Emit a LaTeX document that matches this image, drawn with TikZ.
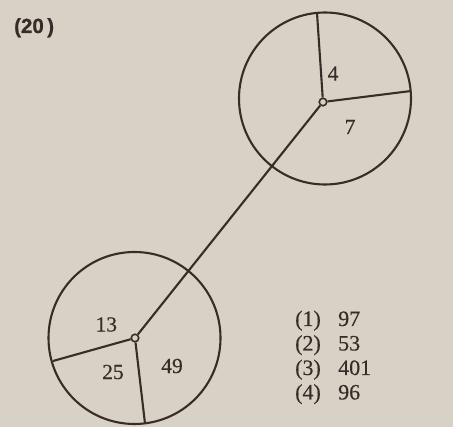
\documentclass[tikz,border=0pt]{standalone}
\usepackage{fontspec}
\setmainfont{Liberation Serif}[FakeBold=0.4]
\newfontfamily\headfont{Liberation Sans}[FakeBold=0.6]
\definecolor{paper}{RGB}{216,209,197}
\definecolor{ink}{RGB}{55,44,40}
\begin{document}
\begin{tikzpicture}[x=1pt,y=-1pt,
  wheel/.style={draw=ink,line width=2.1pt},
  spoke/.style={draw=ink,line width=2.1pt},
  hub/.style={circle,draw=ink,fill=paper,line width=1.6pt,inner sep=0pt,minimum size=7.5pt},
  num/.style={text=ink,font=\fontsize{21.5}{24}\selectfont,inner sep=0pt},
  opt/.style={text=ink,font=\fontsize{22}{26}\selectfont,inner sep=0pt,anchor=base west}]
\fill[paper] (0,0) rectangle (453,427);
\useasboundingbox (0,0) rectangle (453,427);
% title
\node[anchor=base west,inner sep=0pt,text=ink,font=\headfont\bfseries\fontsize{20.5}{24}\selectfont] (title) at (14,33) {(20\,)};
% top wheel
\coordinate (tc) at (325,98.5);
\draw[wheel] (tc) circle (86);
\coordinate (ttop) at (317,13);
\coordinate (tright) at (411,91);
% bottom wheel
\coordinate (bc) at (134.5,338);
\draw[wheel] (bc) circle (86);
\coordinate (bleft) at (53,361);
\coordinate (bbot) at (145,423.5);
% hubs
\node[hub] (th) at (323,102) {};
\node[hub] (bh) at (135,338) {};
\draw[spoke] (th) -- (ttop);
\draw[spoke] (th) -- (tright);
\draw[spoke] (th) -- (bh);
\draw[spoke] (bh) -- (bleft);
\draw[spoke] (bh) -- (bbot);
% numbers
\node[num] (n4) at (333,73.5) {4};
\node[num] (n7) at (350,127) {7};
\node[num] (n13) at (106.3,324.5) {13};
\node[num] (n25) at (113,372) {25};
\node[num] (n49) at (172,366) {49};
% options
\node[opt] (o1) at (295,326) {\makebox[43pt][l]{(1)}97};
\node[opt] (o2) at (295,350.5) {\makebox[43pt][l]{(2)}53};
\node[opt] (o3) at (295,375) {\makebox[43pt][l]{(3)}401};
\node[opt] (o4) at (295,399.5) {\makebox[43pt][l]{(4)}96};
\end{tikzpicture}
\end{document}
